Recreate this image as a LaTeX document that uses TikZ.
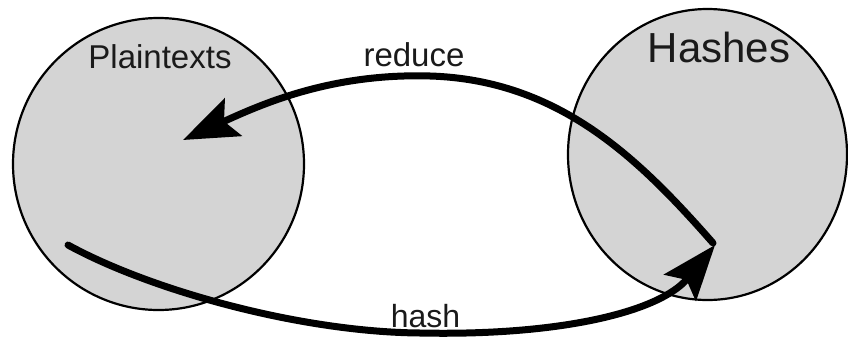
\documentclass[tikz,border=0pt]{standalone}
\usepackage{fontspec}
\setmainfont{Liberation Sans}
\usetikzlibrary{arrows.meta,shapes.geometric}
\definecolor{setgray}{HTML}{D4D4D4}
\definecolor{textgray}{HTML}{1A1A1A}
\begin{document}
\begin{tikzpicture}[x=1pt,y=-1pt,
  setshape/.style={draw=black, line width=2.2pt, fill=setgray, ellipse, inner sep=0pt},
  flow/.style={line width=7pt, line cap=round, -{Stealth[length=55pt,width=41pt,inset=10pt]}},
  lbl/.style={inner sep=0pt, anchor=base, text=textgray}]
\useasboundingbox (0,0) rectangle (848,340);
\node[setshape, minimum width=291pt, minimum height=292pt] (plain) at (158.5,164) {};
\node[setshape, minimum width=279pt, minimum height=291pt] (hashes) at (707.5,154.5) {};
\node[lbl, font=\fontsize{33}{36}\selectfont] (plainlbl) at (160,68) {Plaintexts};
\node[lbl, font=\fontsize{42}{46}\selectfont] (hasheslbl) at (719,62) {Hashes};
\node[lbl, font=\fontsize{33}{36}\selectfont] (reducelbl) at (414,66) {reduce};
\node[lbl, font=\fontsize{32}{36}\selectfont] (hashlbl) at (425.5,327) {hash};
\coordinate (hstart) at (68,245);
\coordinate (hend) at (715,245);
\coordinate (rstart) at (713,243);
\coordinate (rend) at (183,140);
\draw[flow] (hstart) .. controls (150,290) and (300,332) .. (420,333)
  .. controls (560,336) and (660,312) .. (hend);
\draw[flow] (rstart) .. controls (640,160) and (560,80) .. (430,76)
  .. controls (330,73) and (260,105) .. (rend);
\end{tikzpicture}
\end{document}
